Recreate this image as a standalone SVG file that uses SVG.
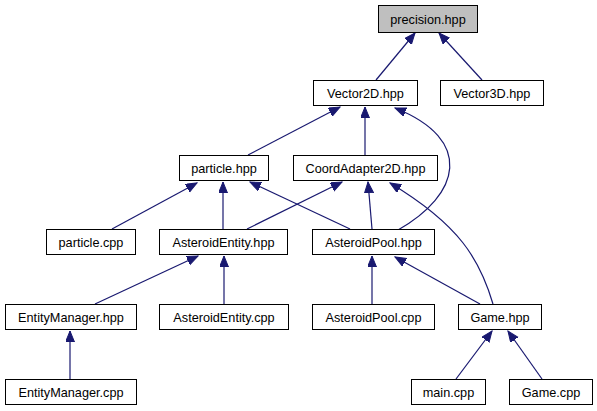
<svg xmlns="http://www.w3.org/2000/svg" width="597" height="411" viewBox="0 0 597 411">
<style>
.n rect{fill:#ffffff;stroke:#000000;stroke-width:1}
.n text{font-family:"Liberation Sans",Arial,sans-serif;font-size:12.7px;fill:#000000;text-anchor:middle}
.e path{fill:none;stroke:#191970;stroke-width:1.2}
</style>
<defs>
<marker id="ah" markerUnits="userSpaceOnUse" markerWidth="12" markerHeight="10" refX="11" refY="4.5" orient="auto">
<path d="M0,0 L11,4.5 L0,9 z" fill="#191970" stroke="#191970"/>
</marker>
</defs>
<rect width="597" height="411" fill="#ffffff"/>
<g class="e">
<path d="M376,80 L415,33" marker-end="url(#ah)"/>
<path d="M482,80 L439,33" marker-end="url(#ah)"/>
<path d="M248,155 L340,107" marker-end="url(#ah)"/>
<path d="M365,155 L365,107" marker-end="url(#ah)"/>
<path d="M398,230 C460,195 475,140 395,108" marker-end="url(#ah)"/>
<path d="M112,229 L197,183" marker-end="url(#ah)"/>
<path d="M223,229 L223,182" marker-end="url(#ah)"/>
<path d="M350,229 L250,182" marker-end="url(#ah)"/>
<path d="M247,229 L342,182" marker-end="url(#ah)"/>
<path d="M372,229 L368,182" marker-end="url(#ah)"/>
<path d="M493,304 C480,260 460,225 390,183" marker-end="url(#ah)"/>
<path d="M95,304 L198,256" marker-end="url(#ah)"/>
<path d="M224,304 L224,256" marker-end="url(#ah)"/>
<path d="M372,304 L372,256" marker-end="url(#ah)"/>
<path d="M480,304 L395,257" marker-end="url(#ah)"/>
<path d="M70,379 L70,331" marker-end="url(#ah)"/>
<path d="M456,379 L492,331" marker-end="url(#ah)"/>
<path d="M542,379 L508,331" marker-end="url(#ah)"/>
</g>
<g id="precision" class="n"><rect x="378.5" y="5.5" width="99" height="27" style="fill:#bfbfbf"/><text x="428" y="23.5">precision.hpp</text></g>
<g id="vector2d" class="n"><rect x="313.5" y="80.5" width="104" height="25"/><text x="365.5" y="97.5">Vector2D.hpp</text></g>
<g id="vector3d" class="n"><rect x="440.5" y="80.5" width="103" height="25"/><text x="492" y="97.5">Vector3D.hpp</text></g>
<g id="particle_hpp" class="n"><rect x="179.5" y="155.5" width="89" height="25"/><text x="224" y="172.5">particle.hpp</text></g>
<g id="coordadapter" class="n"><rect x="293.5" y="155.5" width="144" height="25"/><text x="365.5" y="172.5">CoordAdapter2D.hpp</text></g>
<g id="particle_cpp" class="n"><rect x="46.5" y="229.5" width="89" height="25"/><text x="91" y="246.5">particle.cpp</text></g>
<g id="asteroidentity_hpp" class="n"><rect x="159.5" y="229.5" width="128" height="25"/><text x="223.5" y="246.5">AsteroidEntity.hpp</text></g>
<g id="asteroidpool_hpp" class="n"><rect x="312.5" y="229.5" width="122" height="25"/><text x="373.5" y="246.5">AsteroidPool.hpp</text></g>
<g id="entitymanager_hpp" class="n"><rect x="5.5" y="304.5" width="131" height="25"/><text x="71" y="321.5">EntityManager.hpp</text></g>
<g id="asteroidentity_cpp" class="n"><rect x="159.5" y="304.5" width="129" height="25"/><text x="224" y="321.5">AsteroidEntity.cpp</text></g>
<g id="asteroidpool_cpp" class="n"><rect x="312.5" y="304.5" width="122" height="25"/><text x="373.5" y="321.5">AsteroidPool.cpp</text></g>
<g id="game_hpp" class="n"><rect x="458.5" y="304.5" width="83" height="25"/><text x="500" y="321.5">Game.hpp</text></g>
<g id="entitymanager_cpp" class="n"><rect x="5.5" y="379.5" width="131" height="25"/><text x="71" y="396.5">EntityManager.cpp</text></g>
<g id="main_cpp" class="n"><rect x="411.5" y="379.5" width="74" height="25"/><text x="448.5" y="396.5">main.cpp</text></g>
<g id="game_cpp" class="n"><rect x="509.5" y="379.5" width="83" height="25"/><text x="551" y="396.5">Game.cpp</text></g>
</svg>
